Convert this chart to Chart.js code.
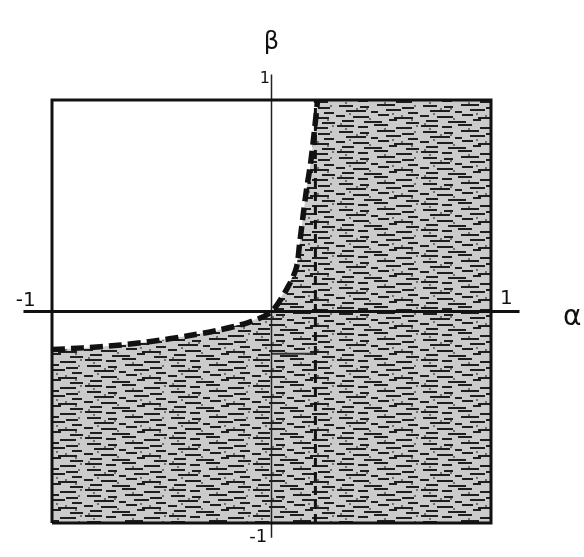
<!DOCTYPE html>
<html>
<head>
<meta charset="utf-8">
<script src="https://cdn.jsdelivr.net/npm/chart.js@4.4.1/dist/chart.umd.min.js"></script>
<style>
  body { margin: 0; background: #fff; }
  canvas { display: block; }
</style>
</head>
<body>
<canvas id="myChart" width="584" height="557"></canvas>
<script>
// boundary curve (alpha, beta)
let alphaLow = [-1, -0.86, -0.7, -0.55, -0.38, -0.25, -0.1, 0];
let betaLow = [-0.18, -0.172, -0.16, -0.142, -0.115, -0.09, -0.05, 0];
let alphaUp = [0, 0.077, 0.114, 0.128, 0.146, 0.16, 0.178, 0.195, 0.21];
let betaUp = [0, 0.12, 0.21, 0.32, 0.47, 0.58, 0.70, 0.85, 1.0];
let asymptoteAlpha = 0.2;

// tick labels
let tickLabels = ["-1", "1", "1", "-1"];
let axisNames = ["α", "β"];

function curvePoints() {
    let pts = [];
    for (let i = 0; i < alphaLow.length; i++) pts.push({x: alphaLow[i], y: betaLow[i]});
    for (let i = 1; i < alphaUp.length; i++) pts.push({x: alphaUp[i], y: betaUp[i]});
    return pts;
}

// shaded region = below/right of the curve inside the square
function shadedRegion() {
    let pts = [{x: -1, y: -1}].concat(curvePoints());
    pts.push({x: 1, y: 1});
    pts.push({x: 1, y: -1});
    pts.push({x: -1, y: -1});
    return pts;
}

// scratchy grey texture for the shading
function makePattern() {
    let c = document.createElement("canvas");
    c.width = 84; c.height = 26;
    let g = c.getContext("2d");
    g.fillStyle = "#cbcbcb";
    g.fillRect(0, 0, 84, 26);
    let streaks = [
        [3, 1, 14], [24, 2, 9], [41, 0, 18], [66, 3, 12],
        [10, 6, 20], [35, 7, 7], [50, 5, 15], [72, 8, 10],
        [0, 11, 9], [17, 12, 16], [42, 10, 11], [58, 13, 19],
        [6, 16, 12], [28, 17, 18], [53, 15, 8], [70, 18, 13],
        [1, 21, 17], [22, 22, 10], [38, 20, 14], [60, 23, 16]
    ];
    g.fillStyle = "#1e1e1e";
    streaks.forEach(function(s) { g.fillRect(s[0], s[1], s[2], 2); });
    g.fillStyle = "#6e6e6e";
    [[20, 4], [33, 14], [48, 24], [78, 1], [13, 9], [65, 11], [4, 19], [80, 21],
     [30, 4], [56, 9], [9, 24], [75, 15]].forEach(function(d) {
        g.fillRect(d[0], d[1], 2, 2);
    });
    return g.createPattern(c, "repeat");
}

let labelPlugin = {
    id: "labels",
    afterDatasetsDraw(chart) {
        let ctx = chart.ctx;
        let xs = chart.scales.x, ys = chart.scales.y;
        function put(text, a, b, size) {
            ctx.font = size + "px 'DejaVu Sans'";
            ctx.fillStyle = "#111";
            ctx.textAlign = "center";
            ctx.textBaseline = "middle";
            ctx.fillText(text, xs.getPixelForValue(a), ys.getPixelForValue(b));
        }
        ctx.save();
        put(tickLabels[0], -1.12, 0.05, 20);
        put(tickLabels[1], 1.07, 0.06, 20);
        put(tickLabels[2], -0.03, 1.1, 16);
        put(tickLabels[3], -0.06, -1.07, 18);
        put(axisNames[0], 1.37, -0.03, 28);
        put(axisNames[1], 0, 1.27, 24);
        ctx.restore();
    }
};

document.addEventListener("DOMContentLoaded", function() {
    let ctx = document.getElementById("myChart").getContext("2d");
    let myChart = new Chart(ctx, {
        type: "scatter",
        data: {
            datasets: [
                {
                    data: shadedRegion(),
                    showLine: true,
                    fill: "shape",
                    backgroundColor: makePattern(),
                    borderWidth: 0,
                    pointRadius: 0,
                    order: 10
                },
                {
                    // frame
                    data: [{x: -1, y: -1}, {x: -1, y: 1}, {x: 1, y: 1}, {x: 1, y: -1}, {x: -1, y: -1}],
                    showLine: true,
                    borderColor: "#111",
                    borderWidth: 3,
                    pointRadius: 0,
                    clip: false,
                    order: 2
                },
                {
                    // alpha axis
                    data: [{x: -1.13, y: 0}, {x: 1.13, y: 0}],
                    showLine: true,
                    borderColor: "#111",
                    borderWidth: 3,
                    pointRadius: 0,
                    clip: false,
                    order: 2
                },
                {
                    // beta axis
                    data: [{x: 0, y: -1.07}, {x: 0, y: 1.12}],
                    showLine: true,
                    borderColor: "#222",
                    borderWidth: 1.5,
                    pointRadius: 0,
                    clip: false,
                    order: 3
                },
                {
                    // asymptote
                    data: [{x: asymptoteAlpha, y: -1}, {x: asymptoteAlpha, y: 1}],
                    showLine: true,
                    borderColor: "#111",
                    borderWidth: 3,
                    borderDash: [9, 5],
                    pointRadius: 0,
                    order: 3
                },
                {
                    data: [{x: 0, y: -0.2}, {x: asymptoteAlpha, y: -0.2}],
                    showLine: true,
                    borderColor: "#333",
                    borderWidth: 2,
                    pointRadius: 0,
                    order: 3
                },
                {
                    // boundary curve
                    data: curvePoints(),
                    showLine: true,
                    borderColor: "#111",
                    borderWidth: 5.5,
                    borderDash: [13, 6],
                    pointRadius: 0,
                    tension: 0.3,
                    clip: false,
                    order: 0
                }
            ]
        },
        options: {
            responsive: false,
            animation: false,
            layout: {
                padding: {left: 52, right: 93, top: 100, bottom: 34}
            },
            plugins: {
                legend: {display: false},
                tooltip: {enabled: false}
            },
            scales: {
                x: {type: "linear", min: -1, max: 1, display: false},
                y: {type: "linear", min: -1, max: 1, display: false}
            }
        },
        plugins: [labelPlugin]
    });
});
</script>
</body>
</html>
